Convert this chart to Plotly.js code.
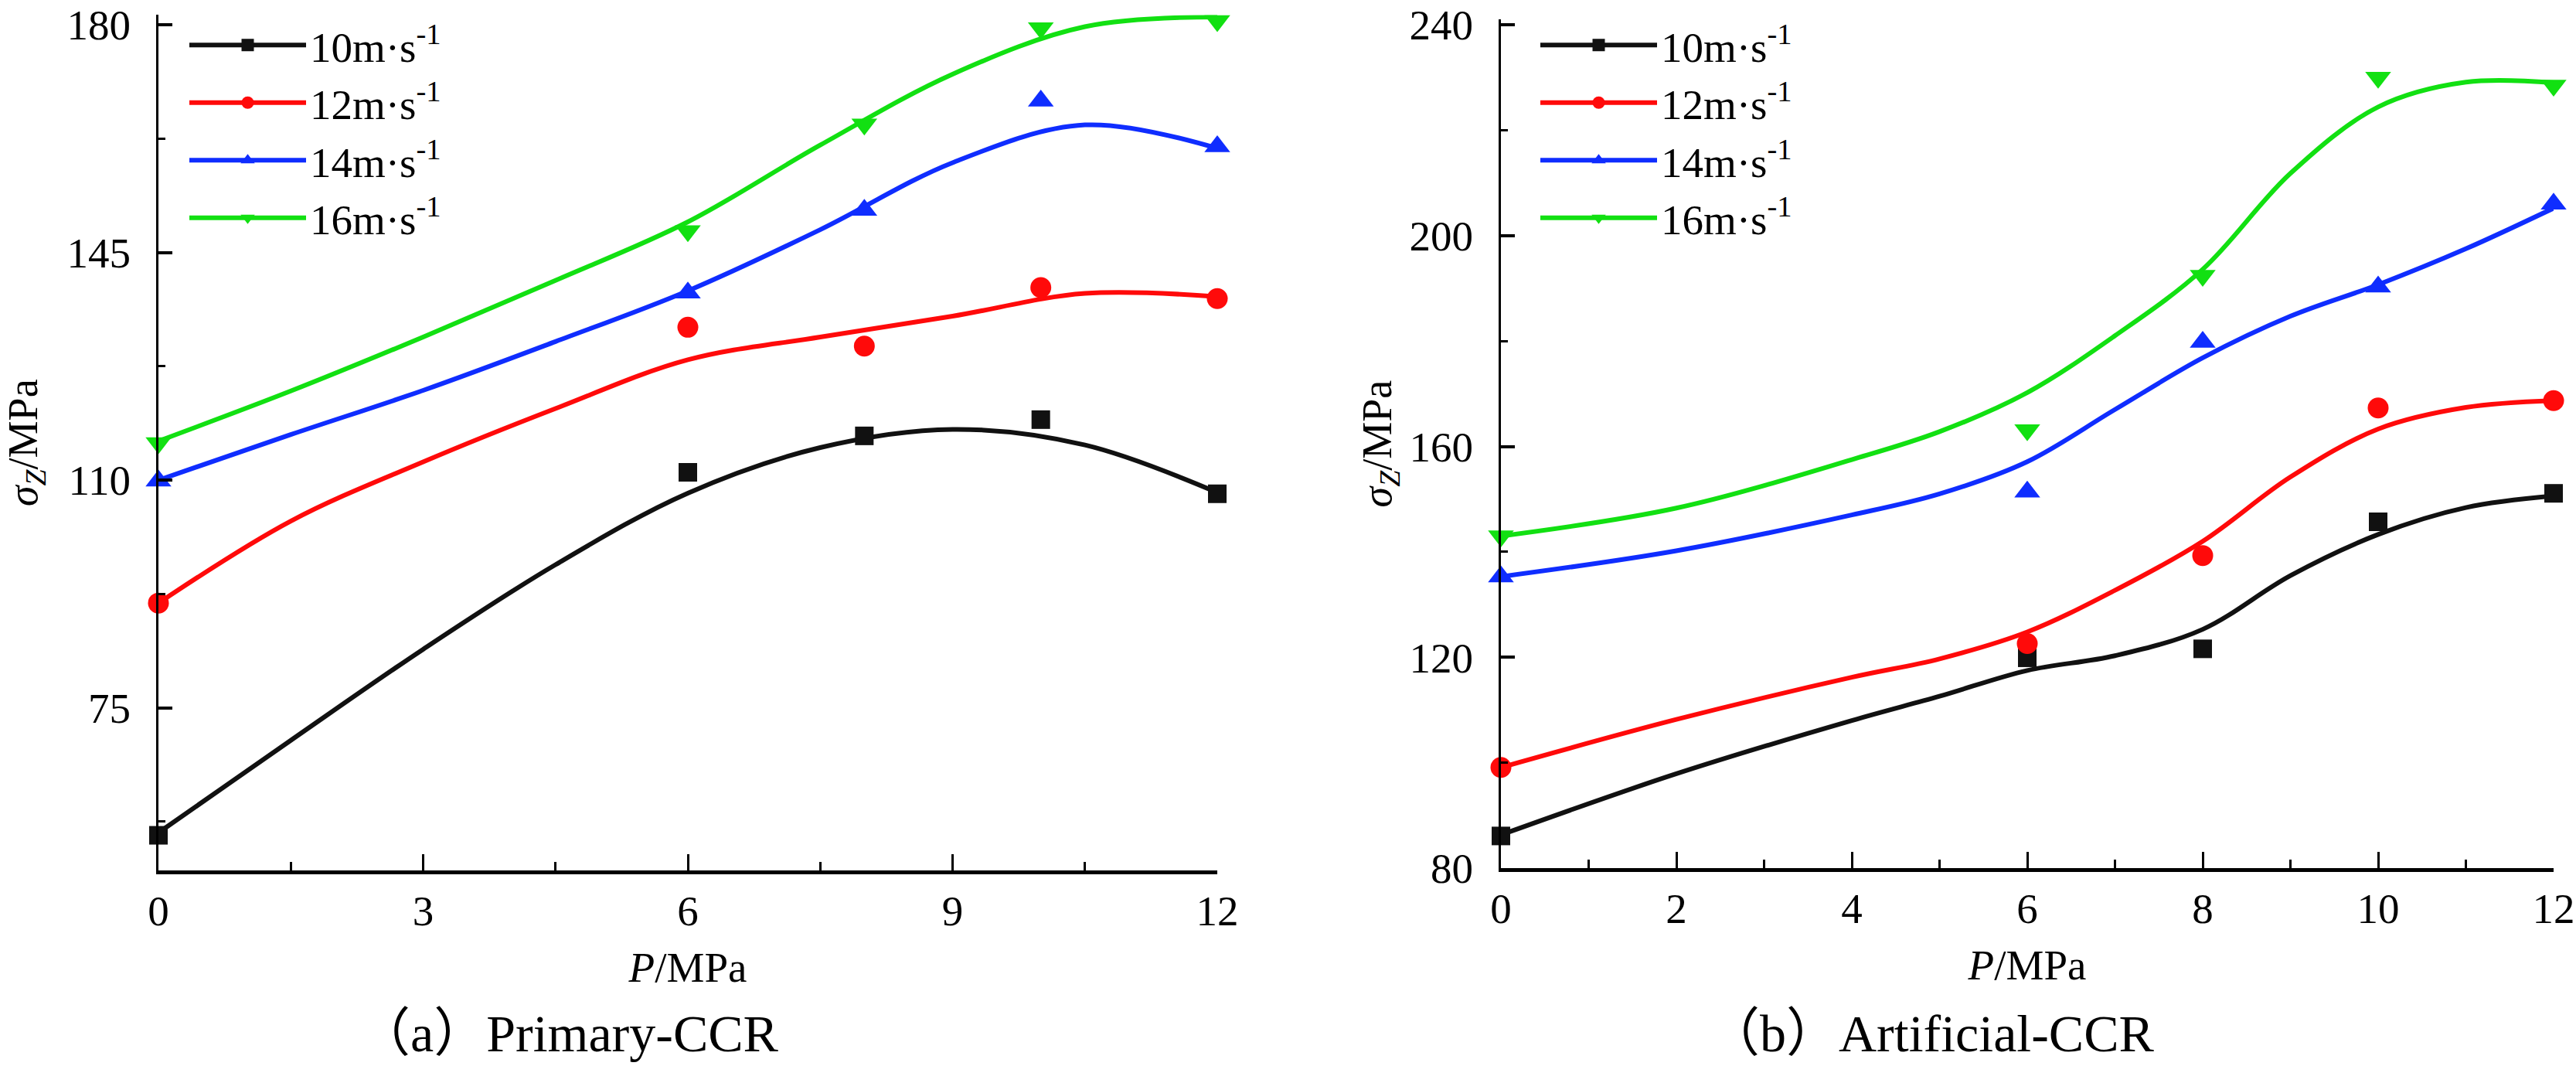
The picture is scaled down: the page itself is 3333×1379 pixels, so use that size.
<!DOCTYPE html>
<html><head><meta charset="utf-8">
<script src="https://cdn.plot.ly/plotly-3.0.1.min.js"></script>
<style>html,body{margin:0;padding:0;background:#fff;} #chart{width:3333px;height:1379px;}</style>
</head><body><div id="chart"></div>
<script>
// ---------- data ----------
const seriesNames = ['10m·s<sup>-1</sup>', '12m·s<sup>-1</sup>', '14m·s<sup>-1</sup>', '16m·s<sup>-1</sup>'];
const captionA = '（a）Primary-CCR';
const captionB = '（b）Artificial-CCR';
const xTitle = '<i>P</i>/MPa';
const yTitle = '<i>σ</i><sub><i>Z</i></sub>/MPa';

// (a) Primary-CCR measured points
const pressureA = [0, 6, 8, 10, 12];
const primary10 = [55.4, 111.2, 116.8, 119.3, 107.9];
const primary12 = [91.1, 133.5, 130.6, 139.6, 137.9];
const primary14 = [109.9, 138.8, 151.5, 168.3, 161.3];
const primary16 = [115.7, 148.3, 164.7, 179.5, 180.6];
// (a) fitted curves
const fitXA = [0, 1.5, 3, 4.5, 6, 7.5, 9, 10.5, 12];
const primaryFit10 = [55.8, 70, 84, 97, 108, 115, 117.8, 115.4, 108.1];
const primaryFit12 = [91.1, 103.7, 112.8, 121, 128.5, 132, 135.2, 138.7, 138.2];
const primaryFit14 = [110, 117, 123.8, 131.3, 139.1, 148.5, 158.8, 164.6, 161];
const primaryFit16 = [116, 123.7, 132, 140.7, 149.7, 161.5, 172.4, 179.7, 181.2];

// (b) Artificial-CCR measured points
const pressureB = [0, 6, 8, 10, 12];
const artificial10 = [86.1, 119.9, 121.6, 145.7, 151.1];
const artificial12 = [99.1, 122.6, 139.3, 167.3, 168.7];
const artificial14 = [135.3, 151.4, 179.8, 190.3, 206.0];
const artificial16 = [143.0, 163.1, 192.4, 230.0, 228.5];
// (b) fitted curves
const fitXB = [0, 2, 4, 5, 6, 7, 8, 9, 10, 11, 12];
const artificialFit10 = [86.3, 97.9, 108, 112.6, 117.5, 120.3, 125.3, 135.5, 143.3, 148.4, 150.6];
const artificialFit12 = [99.1, 108.2, 116.2, 119.7, 124.8, 132.7, 142, 154.2, 163.3, 167.4, 168.7];
const artificialFit14 = [135.3, 140.2, 147, 151, 157.1, 167, 176.8, 184.7, 190.7, 197.5, 205.2];
const artificialFit16 = [143, 148.3, 157.5, 162.8, 170.2, 181, 193.6, 211.8, 224.4, 229.1, 229];

// ---------- styles ----------
const colors = ['#111111', '#ff0a0a', '#0f2dff', '#12e012'];
const symbols = ['square', 'circle', 'triangle-up', 'triangle-down'];
const msizes = [24, 27, 29, 29];
const FONT = 'Liberation Serif';
const CAPFONT = 'Liberation Serif, Noto Sans CJK SC';
const LW = 6;

const W = 3333, H = 1379;
const px = v => v / W;
const py = v => (H - v) / H;

const pointsA = [primary10, primary12, primary14, primary16];
const fitsA = [primaryFit10, primaryFit12, primaryFit14, primaryFit16];
const pointsB = [artificial10, artificial12, artificial14, artificial16];
const fitsB = [artificialFit10, artificialFit12, artificialFit14, artificialFit16];

const traces = [];
function addPanel(xs, pts, fitX, fits, xa, ya, legendId) {
  for (let i = 0; i < 4; i++) {
    traces.push({x: fitX, y: fits[i], xaxis: xa, yaxis: ya, mode: 'lines', type: 'scatter',
      line: {color: colors[i], width: LW, shape: 'spline', smoothing: 1}, showlegend: false,
      cliponaxis: false, hoverinfo: 'skip'});
    traces.push({x: xs, y: pts[i], xaxis: xa, yaxis: ya, mode: 'markers', type: 'scatter',
      marker: {color: colors[i], symbol: symbols[i], size: msizes[i], line: {width: 0}},
      showlegend: false, cliponaxis: false});
  }
  for (let i = 0; i < 4; i++) {
    traces.push({x: [null], y: [null], xaxis: xa, yaxis: ya, mode: 'lines+markers', type: 'scatter',
      name: seriesNames[i], legend: legendId,
      line: {color: colors[i], width: LW},
      marker: {color: colors[i], symbol: symbols[i], size: 16}});
  }
}
addPanel(pressureA, pointsA, fitXA, fitsA, 'x', 'y', 'legend');
addPanel(pressureB, pointsB, fitXB, fitsB, 'x2', 'y2', 'legend2');

function xAxis(dom, dtick, minorDtick, anchor) {
  return {domain: dom, range: [0, 12], tick0: 0, dtick: dtick, ticks: 'inside', ticklen: 21, tickwidth: 3,
    tickcolor: '#000', showline: true, linewidth: 5, linecolor: '#000', showgrid: false, zeroline: false,
    minor: {tick0: 0, dtick: minorDtick, ticks: 'inside', ticklen: 11, tickwidth: 3, tickcolor: '#000', showgrid: false},
    tickfont: {family: FONT, size: 55, color: '#000'}, ticklabelstandoff: 0, ticklabeloverflow: 'allow',
    title: {text: xTitle, font: {family: FONT, size: 55, color: '#000'}, standoff: 25},
    anchor: anchor, fixedrange: true};
}
function yAxis(dom, range, tick0, dtick, anchor, standoff) {
  return {domain: dom, range: range, tick0: tick0, dtick: dtick, ticks: 'inside', ticklen: 18, tickwidth: 4,
    tickcolor: '#000', showline: true, linewidth: 3, linecolor: '#000', showgrid: false, zeroline: false,
    minor: {tick0: tick0, dtick: dtick / 2, ticks: 'inside', ticklen: 9, tickwidth: 3, tickcolor: '#000', showgrid: false},
    tickfont: {family: FONT, size: 55, color: '#000'}, ticklabelstandoff: 22, ticklabeloverflow: 'allow',
    title: {text: yTitle, font: {family: FONT, size: 54, color: '#000'}, standoff: standoff},
    anchor: anchor, fixedrange: true};
}

const legendBase = {font: {family: FONT, size: 55, color: '#000'}, bgcolor: 'rgba(0,0,0,0)', borderwidth: 0,
  xanchor: 'left', yanchor: 'top', itemwidth: 151, itemsizing: 'trace', tracegroupgap: 0, itemclick: false};

const layout = {
  width: W, height: H, margin: {l: 0, r: 0, t: 0, b: 0}, paper_bgcolor: '#fff', plot_bgcolor: '#fff',
  font: {family: FONT, color: '#000'},
  xaxis: xAxis([px(205), px(1575)], 3, 1.5, 'y'),
  yaxis: yAxis([py(1126), py(19.4)], [50, 181.5], 75, 35, 'x', 32),
  xaxis2: xAxis([px(1942), px(3304)], 2, 1, 'y2'),
  yaxis2: yAxis([py(1123), py(25.2)], [80, 241], 80, 40, 'x2', 6),
  legend: Object.assign({}, legendBase, {x: px(240), y: py(16)}),
  legend2: Object.assign({}, legendBase, {x: px(1988), y: py(16)}),
  annotations: [
    {text: captionA, xref: 'paper', yref: 'paper', x: px(461), y: py(1337), xanchor: 'left', yanchor: 'middle',
     showarrow: false, font: {family: CAPFONT, size: 68, color: '#000'}},
    {text: captionB, xref: 'paper', yref: 'paper', x: px(2207), y: py(1337), xanchor: 'left', yanchor: 'middle',
     showarrow: false, font: {family: CAPFONT, size: 68, color: '#000'}}
  ],
  showlegend: true
};

Plotly.newPlot('chart', traces, layout, {staticPlot: true, displayModeBar: false});
</script>
</body></html>
